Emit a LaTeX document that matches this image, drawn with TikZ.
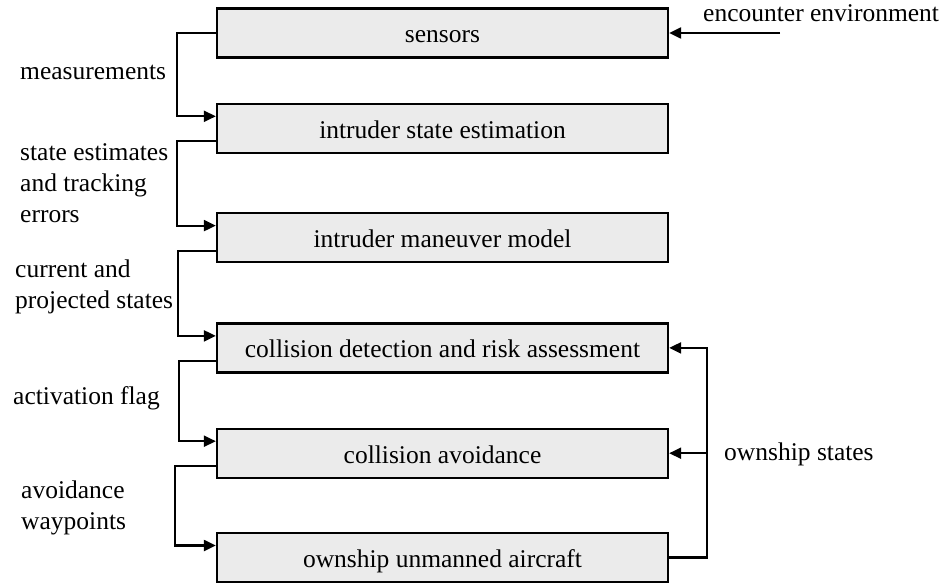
\documentclass[tikz,border=0pt]{standalone}
\usepackage{fontspec}
\setmainfont{Liberation Serif}
\usetikzlibrary{arrows.meta,positioning}
\definecolor{boxgray}{HTML}{EBEBEB}
\tikzset{
  >={Triangle[length=12pt,width=11pt]},
  block/.style={draw,line width=2.3pt,fill=boxgray,minimum width=451pt,minimum height=49pt,inner sep=0pt,text height=22pt,text depth=2pt},
  arrow/.style={->,line width=2.2pt},
  lbl/.style={align=left,inner sep=0pt,anchor=west},
}

\begin{document}
\begin{tikzpicture}[x=1pt,y=-1pt,font=\fontsize{25.5}{31}\selectfont]
			\useasboundingbox (0,0) rectangle (947,583);
			\node[block] (sensors) at (442.5,33) {sensors};
			\node[block,below=44pt of sensors] (estim) {intruder state estimation};
			\node[block,below=58pt of estim] (maneuver) {intruder maneuver model};
			\node[block,below=59pt of maneuver] (detect) {collision detection and risk assessment};
			\node[block,below=54pt of detect] (avoid) {collision avoidance};
			\node[block,below=53pt of avoid] (ownship) {ownship unmanned aircraft};
			% left chain
			\draw[arrow] (sensors.west) -- ++(-39pt,0) |- ([yshift=12pt]estim.west);
			\draw[arrow] ([yshift=-13pt]estim.west) -- ++(-39pt,0) |- ([yshift=12pt]maneuver.west);
			\draw[arrow] ([yshift=-13pt]maneuver.west) -- ++(-38pt,0) |- ([yshift=12pt]detect.west);
			\draw[arrow] ([yshift=-13pt]detect.west) -- ++(-37pt,0) |- ([yshift=12pt]avoid.west);
			\draw[arrow] ([yshift=-13pt]avoid.west) -- ++(-41pt,0) |- ([yshift=12pt]ownship.west);
			\node[lbl] (meas) at (20,72) {measurements};
			\node[lbl] (est) at (20,183) {state estimates\\and tracking\\errors};
			\node[lbl] (proj) at (15,287) {current and\\projected states};
			\node[lbl] (flag) at (13,398) {activation flag};
			\node[lbl] (wpts) at (21,508) {avoidance\\waypoints};
			% right side
			\coordinate (env) at (780,33);
			\draw[arrow] (env) -- (sensors.east);
			\node[lbl] (envlbl) at (703,13) {encounter environment};
			\coordinate (bus) at ([xshift=38pt]ownship.east);
			\draw[arrow] (ownship.east) -- (bus) |- (detect.east);
			\draw[arrow] (bus |- avoid.east) -- (avoid.east);
			\node[lbl] (ownlbl) at (724,454) {ownship states};
		\end{tikzpicture}
\end{document}
